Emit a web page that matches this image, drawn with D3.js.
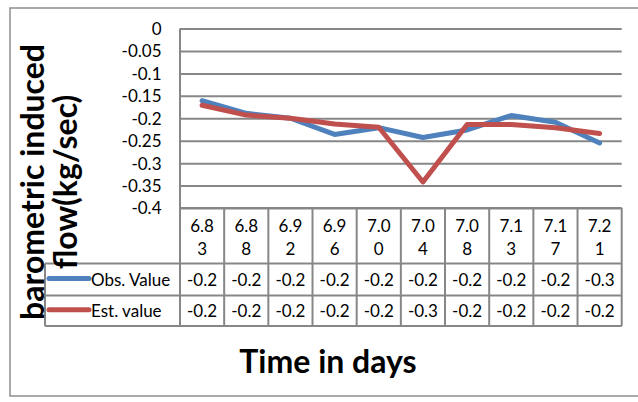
<!DOCTYPE html>
<html><head><meta charset="utf-8">
<script src="https://cdn.jsdelivr.net/npm/d3@7"></script>
<style>
html,body{margin:0;padding:0;background:#fff;}
svg{display:block;}
text{font-family:Lato,"Open Sans",sans-serif;fill:#000;}
</style></head>
<body>
<svg id="chart" width="638" height="402"></svg>
<script>
const categories = ["6.83","6.88","6.92","6.96","7.00","7.04","7.08","7.13","7.17","7.21"];
const obsValues = [-0.161,-0.189,-0.200,-0.236,-0.221,-0.243,-0.226,-0.194,-0.209,-0.255];
const estValues = [-0.171,-0.193,-0.200,-0.213,-0.220,-0.342,-0.214,-0.214,-0.221,-0.234];
const yTicks = [0,-0.05,-0.1,-0.15,-0.2,-0.25,-0.3,-0.35,-0.4];
const seriesNames = ["Obs. Value","Est. value"];
const yTitle = ["barometric induced","flow(kg/sec)"];
const xTitle = "Time in days";

const series = [
  {name: seriesNames[0], values: obsValues, color: "#4F81BD"},
  {name: seriesNames[1], values: estValues, color: "#C0504D"}
];

const locale = d3.formatLocale({decimal:".", thousands:",", grouping:[3], currency:["",""], minus:"-"});
const tickFmt = locale.format("");
const valFmt = locale.format(".1f");

const svg = d3.select("#chart");
const gridColor = "#878787";

svg.append("rect").attr("x",10).attr("y",8).attr("width",640).attr("height",388)
  .attr("fill","#fff").attr("stroke","#8e8e8e").attr("stroke-width",1.5);

const pLeft = 180, pRight = 621.7, pTop = 28.5, pBottom = 208;
const x = d3.scaleBand().domain(categories).range([pLeft,pRight]);
const y = d3.scaleLinear().domain([-0.4,0]).range([pBottom,pTop]);

const rowCat = [pBottom, 263.5];
const rowObs = [263.5, 295.5];
const rowEst = [295.5, 326];
const legendLeft = 45;

const yAxis = d3.axisLeft(y).tickValues(yTicks).tickSize(-(pRight-pLeft)).tickFormat(tickFmt).tickPadding(18);
const gy = svg.append("g").attr("transform",`translate(${pLeft},0)`).call(yAxis);
gy.select(".domain").remove();
gy.selectAll(".tick line").attr("stroke",gridColor).attr("stroke-width",2);
gy.selectAll(".tick text").attr("font-size",17).attr("font-family","Lato").attr("fill","#000")
  .attr("dy","0.35em").attr("x",-18.5);

const g = svg.append("g");
g.append("line").attr("x1",pLeft).attr("x2",pLeft).attr("y1",pTop).attr("y2",rowEst[1])
  .attr("stroke",gridColor).attr("stroke-width",2);
categories.forEach(c=>{
  g.append("line").attr("x1",x(c)+x.bandwidth()).attr("x2",x(c)+x.bandwidth())
    .attr("y1",pBottom).attr("y2",rowEst[1]).attr("stroke",gridColor).attr("stroke-width",2);
});
[[pLeft,rowCat[0]],[legendLeft,rowObs[0]],[legendLeft,rowEst[0]],[legendLeft,rowEst[1]]].forEach(([x0,yy])=>{
  g.append("line").attr("x1",x0).attr("x2",pRight).attr("y1",yy).attr("y2",yy)
    .attr("stroke",gridColor).attr("stroke-width",2);
});
g.append("line").attr("x1",legendLeft).attr("x2",legendLeft).attr("y1",rowObs[0]).attr("y2",rowEst[1])
  .attr("stroke",gridColor).attr("stroke-width",2);

categories.forEach(c=>{
  const cx = x(c)+x.bandwidth()/2;
  const t = g.append("text").attr("text-anchor","middle").attr("font-size",17);
  t.append("tspan").attr("x",cx).attr("y",231.5).text(c.slice(0,3));
  t.append("tspan").attr("x",cx).attr("y",255).text(c.slice(3));
});

const line = d3.line().x((d,i)=>x(categories[i])+x.bandwidth()/2).y(d=>y(d));
series.forEach((s,k)=>{
  svg.append("path").datum(s.values).attr("d",line).attr("fill","none")
    .attr("stroke",s.color).attr("stroke-width",5).attr("stroke-linejoin","round").attr("stroke-linecap","round");
  const row = k===0 ? rowObs : rowEst;
  const ly = (row[0]+row[1])/2 - 1;
  svg.append("line").attr("x1",49).attr("x2",89).attr("y1",ly).attr("y2",ly)
    .attr("stroke",s.color).attr("stroke-width",5).attr("stroke-linecap","round");
  svg.append("text").attr("x",91).attr("y",row[1]-9.5).attr("font-size",17).text(s.name);
  s.values.forEach((v,i)=>{
    svg.append("text").attr("x",x(categories[i])+x.bandwidth()/2).attr("y",row[1]-9.5)
      .attr("text-anchor","middle").attr("font-size",17).text(valFmt(v));
  });
});

const yt = svg.append("text").attr("transform","translate(0,182) rotate(-90)")
  .attr("text-anchor","middle").attr("font-size",32).attr("font-weight","bold");
yt.append("tspan").attr("x",0).attr("y",43.5).text(yTitle[0]);
yt.append("tspan").attr("x",0).attr("y",76.5).text(yTitle[1]);

svg.append("text").attr("x",328).attr("y",372.7).attr("text-anchor","middle")
  .attr("font-size",32).attr("font-weight","bold").text(xTitle);
</script>
</body></html>
